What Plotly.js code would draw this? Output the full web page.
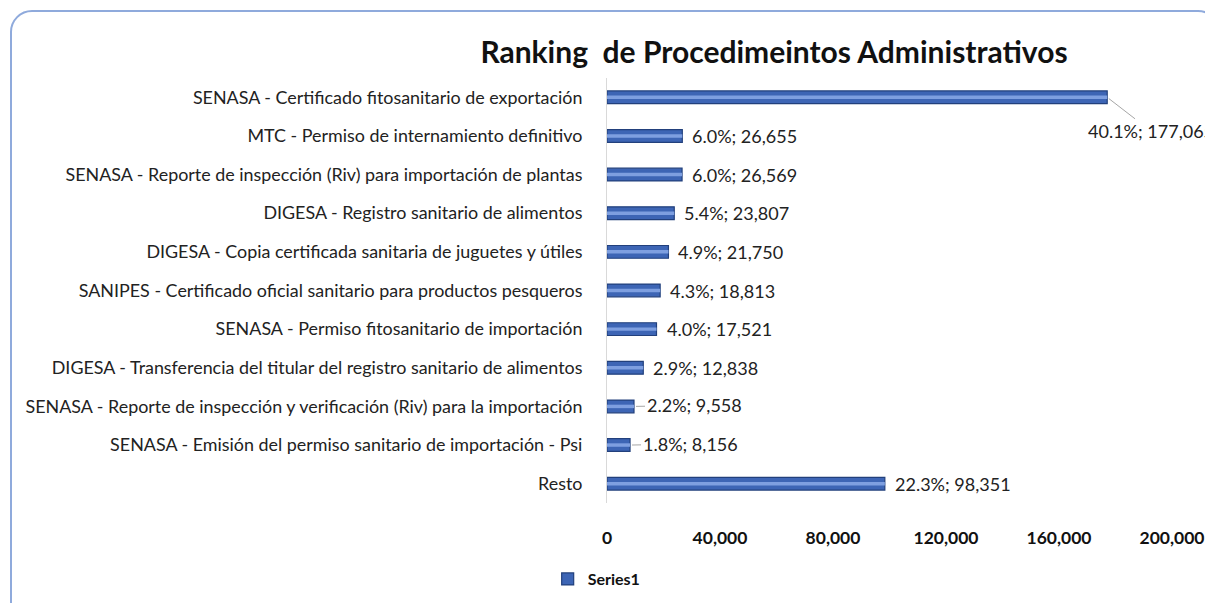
<!DOCTYPE html>
<html>
<head>
<meta charset="utf-8">
<script src="https://cdn.plot.ly/plotly-3.0.1.min.js"></script>
<style>
  html, body { margin: 0; padding: 0; background: #ffffff; }
  #wrap { position: relative; width: 1205px; height: 603px; overflow: hidden; }
  #chart { position: absolute; left: 0; top: 0; width: 1205px; height: 603px; }
  #frame { position: absolute; left: 10px; top: 10px; width: 1210px; height: 620px;
           border: 2px solid #8faadc; border-radius: 22px; pointer-events: none; box-sizing: border-box; }
</style>
</head>
<body>
<div id="wrap">
  <div id="chart"></div>
  <div id="frame"></div>
</div>
<script>
const categories = [
  "SENASA - Certificado fitosanitario de exportación",
  "MTC - Permiso de internamiento definitivo",
  "SENASA - Reporte de inspección (Riv) para importación de plantas",
  "DIGESA - Registro sanitario de alimentos",
  "DIGESA - Copia certificada sanitaria de juguetes y útiles",
  "SANIPES - Certificado oficial sanitario para productos pesqueros",
  "SENASA - Permiso fitosanitario de importación",
  "DIGESA - Transferencia del titular del registro sanitario de alimentos",
  "SENASA - Reporte de inspección y verificación (Riv) para la importación",
  "SENASA - Emisión del permiso sanitario de importación - Psi",
  "Resto"
];
const values = [177065, 26655, 26569, 23807, 21750, 18813, 17521, 12838, 9558, 8156, 98351];
const tickValues = [0, 40000, 80000, 120000, 160000, 200000];
const tickLabels = ["0", "40,000", "80,000", "120,000", "160,000", "200,000"];
const seriesName = "Series1";

const total = values.reduce((a, b) => a + b, 0);
const fmt = v => v.toLocaleString("en-US");
const labelText = values.map(v => (100 * v / total).toFixed(1) + "%; " + fmt(v));

const FONT = "Lato, Noto Sans, sans-serif";

const mainTrace = {
  type: "bar", orientation: "h",
  x: values, y: categories,
  name: seriesName,
  width: 0.33,
  marker: { color: "#3d65b5", line: { color: "#22407c", width: 1.2 } },
  hoverinfo: "x+y"
};
const highlight = {
  type: "bar", orientation: "h",
  x: values, y: categories,
  width: 0.09,
  showlegend: false,
  marker: { color: "#7e9fe0", line: { width: 0 } },
  hoverinfo: "skip"
};

// leader-line labels: index -> [ax, ay]
const leaders = { 0: [44, 34], 8: [60, -1], 9: [60, -1] };

const annotations = values.map((v, i) => {
  const base = {
    x: v, y: categories[i], xref: "x", yref: "y",
    text: labelText[i],
    font: { family: FONT, size: 18, color: "#222222" }
  };
  if (leaders[i]) {
    return Object.assign(base, {
      showarrow: true, arrowhead: 0, arrowwidth: 1, arrowcolor: "#a6a6a6",
      ax: leaders[i][0], ay: leaders[i][1], standoff: 2, xanchor: "center"
    });
  }
  return Object.assign(base, { showarrow: false, xanchor: "left", xshift: 8 });
});

const layout = {
  width: 1205, height: 603,
  paper_bgcolor: "rgba(0,0,0,0)",
  plot_bgcolor: "rgba(0,0,0,0)",
  margin: { l: 607, r: 33, t: 78, b: 100 },
  barmode: "overlay",
  title: {
    text: "<b>Ranking  de Procedimeintos Administrativos</b>",
    font: { family: FONT, size: 30, color: "#111111" },
    x: 774 / 1205, xref: "container", xanchor: "center",
    y: 1 - 52 / 603, yref: "container", yanchor: "middle"
  },
  xaxis: {
    range: [0, 200000],
    tickvals: tickValues, ticktext: tickLabels,
    showgrid: false, zeroline: false, showline: false,
    ticks: "", ticklabelstandoff: 22,
    tickfont: { family: FONT, size: 17.5, color: "#111111", weight: "bold" },
    fixedrange: true
  },
  yaxis: {
    type: "category",
    range: [categories.length - 0.5, -0.5],
    showgrid: false, zeroline: false,
    showline: true, linecolor: "#d9d9d9", linewidth: 1,
    ticks: "", ticklabelstandoff: 20,
    tickfont: { family: FONT, size: 17.9, color: "#222222" },
    fixedrange: true
  },
  showlegend: true,
  legend: {
    orientation: "h",
    x: -0.105, xanchor: "left",
    y: 1 - 579 / 603, yref: "container", yanchor: "middle",
    font: { family: FONT, size: 16, color: "#111111", weight: "bold" },
    bgcolor: "rgba(0,0,0,0)",
    itemwidth: 30
  },
  annotations: annotations
};

Plotly.newPlot("chart", [mainTrace, highlight], layout, { displayModeBar: false, staticPlot: true });
</script>
</body>
</html>
